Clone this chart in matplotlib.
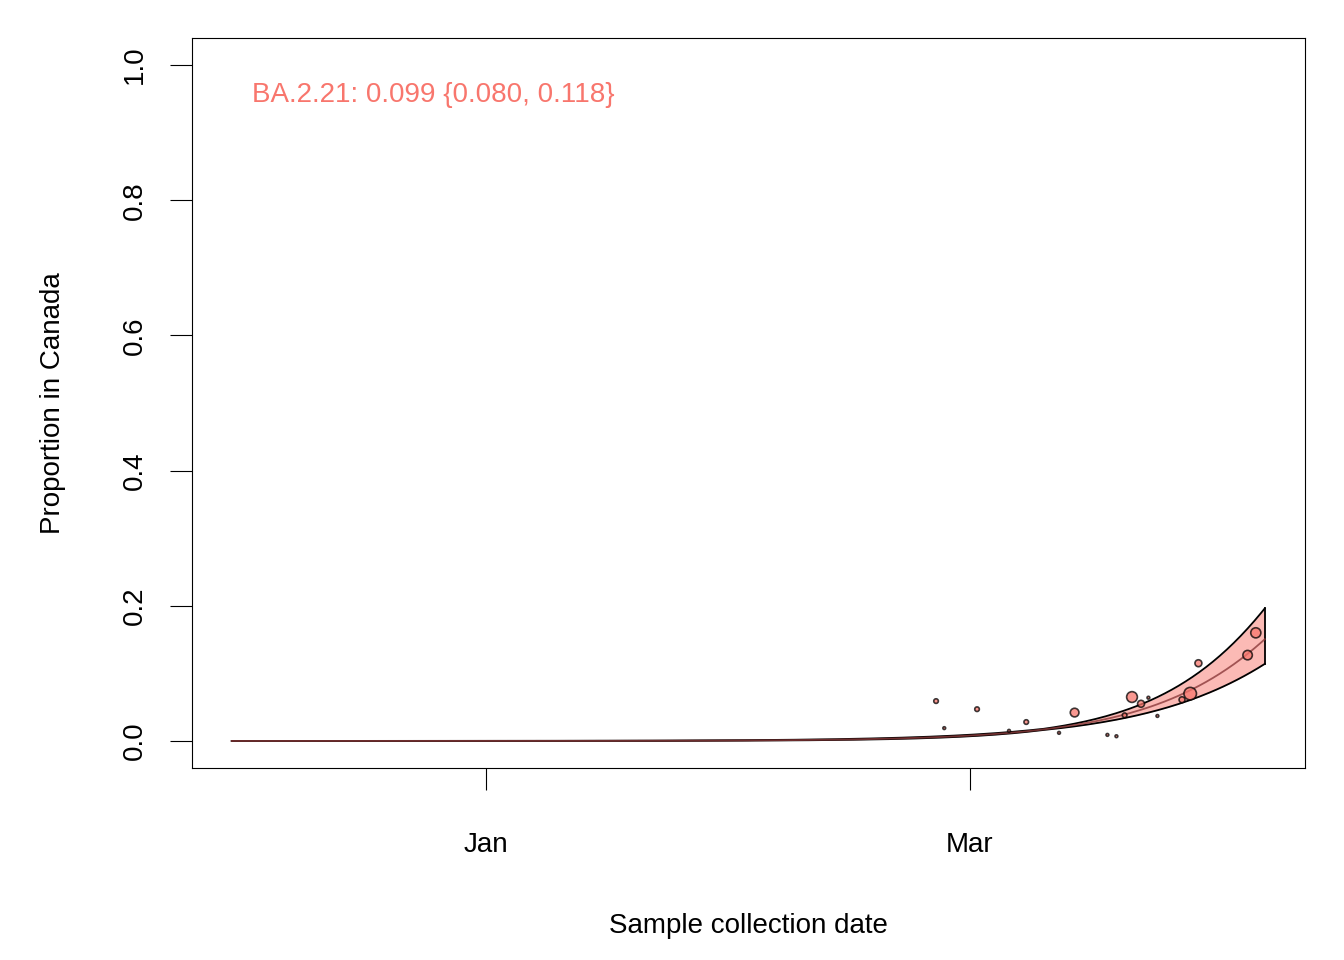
import numpy as np
import matplotlib.pyplot as plt

# observed points: days since Jan 1 2022, proportion, relative size (sample count)
obs_day = [54.9, 55.9, 59.9, 63.8, 65.9, 69.9, 71.8, 75.8, 76.9, 77.9, 78.8, 79.9, 80.8, 81.9, 84.9, 85.9, 86.9, 92.9, 93.9]
obs_prop = [0.059, 0.019, 0.047, 0.015, 0.028, 0.012, 0.042, 0.009, 0.007, 0.038, 0.065, 0.055, 0.064, 0.037, 0.061, 0.070, 0.115, 0.127, 0.160]
obs_n = [2, 1, 2, 1, 2, 1, 6, 1, 1, 2, 9, 4, 1, 1, 3, 12, 4, 7, 8]

# logistic fit
start_day, end_day = -31, 95
slope = 0.086
end_logit = -1.73
ci_half_end = 0.27
ci_ref_day = 68

days = np.linspace(start_day, end_day, 300)
logit = end_logit + slope * (days - end_day)
hw = ci_half_end * np.abs(days - ci_ref_day) / (end_day - ci_ref_day) + 0.05
mid = 1 / (1 + np.exp(-logit))
lo = 1 / (1 + np.exp(-(logit - hw)))
hi = 1 / (1 + np.exp(-(logit + hw)))

col = "#F8766D"
plt.rcParams["font.family"] = ["Liberation Sans", "DejaVu Sans"]
fig = plt.figure(figsize=(13.44, 9.6), dpi=100)
ax = fig.add_axes([192/1344, 1 - 768/960, (1305-192)/1344, (768-38)/960])

ax.fill_between(days, lo, hi, color=col, alpha=0.5, lw=0)
ax.plot(days, lo, color="black", lw=1.3)
ax.plot(days, hi, color="black", lw=1.3)
ax.plot([end_day, end_day], [lo[-1], hi[-1]], color="black", lw=1.3)
ax.plot(days, mid, color="#8B3A3A", lw=1.3, alpha=0.8)

sizes = [4 + 7 * (n - 1) for n in obs_n]
ax.scatter(obs_day, obs_prop, s=sizes, facecolor=col, edgecolor="black", alpha=0.75, lw=1.2, zorder=3)

ax.text(-28.5, 0.955, "BA.2.21: 0.099 {0.080, 0.118}", color=col, fontsize=20, va="center")

ax.set_xlim(-35.85, 99.9)
ax.set_ylim(-0.04, 1.04)
ax.set_xticks([0, 59])
ax.set_xticklabels(["Jan", "Mar"], fontsize=20)
ax.set_yticks([0, 0.2, 0.4, 0.6, 0.8, 1.0])
ax.set_yticklabels(["0.0", "0.2", "0.4", "0.6", "0.8", "1.0"], fontsize=20, rotation=90, va="center")
ax.tick_params(axis="x", length=16, pad=30)
ax.tick_params(axis="y", length=16, pad=16)
ax.set_xlabel("Sample collection date", fontsize=20, labelpad=40)
ax.set_ylabel("Proportion in Canada", fontsize=20, labelpad=40)

fig.savefig("out.png", dpi=100)
